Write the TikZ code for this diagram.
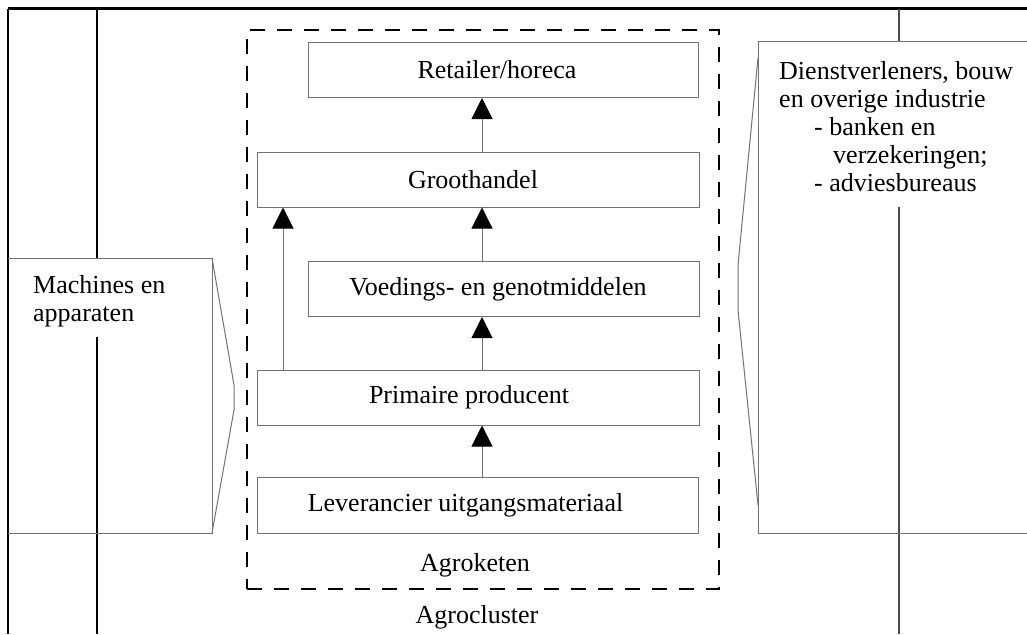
\documentclass[tikz,border=0pt]{standalone}
\usepackage{fontspec}
\setmainfont{Liberation Serif}
\usetikzlibrary{arrows.meta}

% pad a box label on the right so it sits a little left of centre
\newcommand{\padr}[2]{#2\hspace*{#1}}

\tikzset{
  txt/.style={font=\fontsize{26}{28}\selectfont, inner sep=0pt},
  stage/.style={txt, draw=black!55, line width=1pt, minimum height=55pt},
  flow/.style={draw=black!55, line width=1pt,
    -{Triangle[length=21pt,width=21pt,color=black]}},
  thin/.style={draw=black!55, line width=1pt},
  frame/.style={draw=black, line width=2pt},
  chain/.style={draw=black, line width=2.5pt, dash pattern=on 15pt off 12pt}
}

\begin{document}
\begin{tikzpicture}[x=1pt,y=-1pt]
  \useasboundingbox[fill=white] (0,0) rectangle (1027,634);

  % outer cluster frame and the two sector lines
  \draw[frame, line width=3pt] (8,9) -- (1027,9);
  \draw[draw=black, line width=1.2pt] (8,9) -- (8,634);
  \draw[frame] (97,9) -- (97,258);
  \draw[frame] (97,337) -- (97,634);
  \draw[frame, draw=black!70] (899,9) -- (899,42);
  \draw[frame, draw=black!70] (899,207) -- (899,634);

  % supplier block on the left, with its pointer
  \draw[thin] (8,258) -- (212,258) -- (212,533) -- (8,533);
  \draw[thin] (212,258) -- (234,385) -- (234,410) -- (212,533);
  \node[txt, anchor=north west, align=left] (mach) at (33,275)
    {Machines en\\apparaten};

  % services block on the right, with its pointer
  \draw[thin] (1027,42) -- (758,42) -- (758,533) -- (1027,533);
  \draw[thin] (758,58) -- (738,265) -- (738,310) -- (758,505);
  \node[txt, anchor=north west, align=left] (dienst) at (779,61)
    {Dienstverleners, bouw\\
     en overige industrie\\
     \hspace*{35pt}- banken en\\
     \hspace*{54pt}verzekeringen;\\
     \hspace*{35pt}- adviesbureaus};

  % agro chain
  \node[chain, minimum width=472pt, minimum height=559pt, inner sep=0pt]
    (keten) at (483,309.5) {};
  \node[stage, minimum width=390pt] (ret) at (503,70) {\padr{12pt}{Retailer/horeca}};
  \node[stage, minimum width=442pt] (gro) at (478,179.5) {\padr{10pt}{Groothandel}};
  \node[stage, minimum width=391pt] (voe) at (503.5,289) {\padr{11pt}{Voedings- en genotmiddelen}};
  \node[stage, minimum width=442pt] (pri) at (478,397.5) {\padr{18pt}{Primaire producent}};
  \node[stage, minimum width=441pt, minimum height=56pt] (lev) at (477.5,505)
    {\padr{24pt}{Leverancier uitgangsmateriaal}};

  \coordinate (spine) at (482,0);
  \coordinate (side) at (283,0);
  \draw[flow] (lev.north -| spine) -- (pri.south -| spine);
  \draw[flow] (pri.north -| spine) -- (voe.south -| spine);
  \draw[flow] (voe.north -| spine) -- (gro.south -| spine);
  \draw[flow] (gro.north -| spine) -- (ret.south -| spine);
  \draw[flow] (pri.north -| side) -- (gro.south -| side);

  \node[txt] (agroketen) at (475,565) {Agroketen};
  \node[txt] (agrocluster) at (477,617) {Agrocluster};
\end{tikzpicture}
\end{document}
